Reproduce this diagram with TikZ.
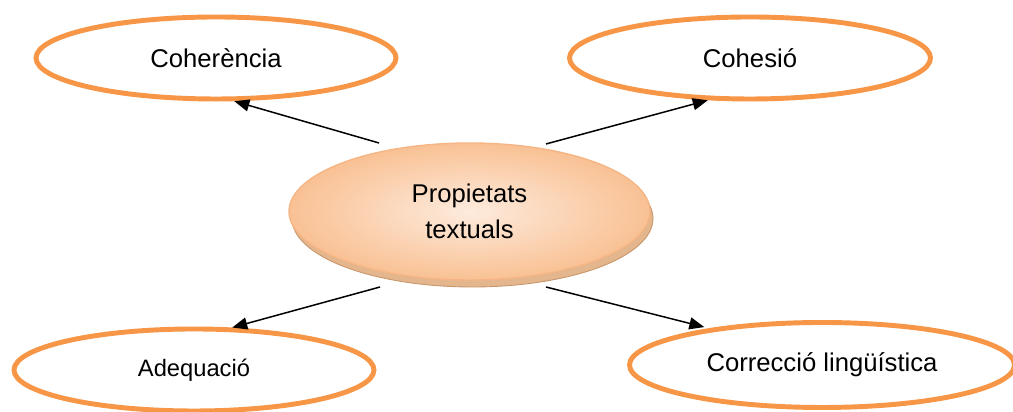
\documentclass[tikz,border=0pt]{standalone}
\usepackage{fontspec}
\setmainfont{Liberation Sans}
\usetikzlibrary{shapes.geometric,arrows.meta}

\definecolor{ringorange}{HTML}{F79646}
\definecolor{peachlight}{HTML}{FDEBDD}
\definecolor{peachdark}{HTML}{F9C194}
\definecolor{peachline}{HTML}{F5B584}
\definecolor{bevel}{HTML}{E3B68E}
\definecolor{beveldark}{HTML}{C9966A}

\tikzset{
	prop/.style={ellipse, draw=ringorange, line width=2.8pt, fill=white, inner sep=0pt,
		minimum width=7.2cm, minimum height=1.64cm, font=\fontsize{14.6}{17}\selectfont},
	arr/.style={-{Triangle[length=0.3cm,width=0.24cm]}, line width=0.85pt, black}
}

\begin{document}
\begin{tikzpicture}

		\useasboundingbox (0,0) rectangle (20.26,8.24);

		\coordinate (S1) at (7.58,5.38);
		\coordinate (S2) at (10.92,5.36);
		\coordinate (S3) at (7.60,2.50);
		\coordinate (S4) at (10.92,2.50);

		% the four properties
		\node[prop] (coh) at (4.32,7.08) {Coherència};
		\node[prop, minimum width=7.22cm] (cohe) at (15.0,7.08) {Cohesió};
		\node[prop, font=\fontsize{13.5}{16}\selectfont] (adeq) at (3.88,0.84) {Adequació};
		\node[prop, minimum width=7.7cm, minimum height=1.7cm] (corr) at (16.44,0.94) {Correcció lingüística};

		% raised disc in the middle
		\draw[fill=bevel, draw=beveldark, line width=0.5pt] (9.45,3.87) ellipse (3.61cm and 1.37cm);
		\node[ellipse, draw=peachline, line width=0.8pt, inner color=peachlight, outer color=peachdark,
			minimum width=7.22cm, minimum height=2.74cm, align=center,
			font=\fontsize{14.6}{20.5}\selectfont] (centre) at (9.39,4.01) {Propietats\\textuals};

		\draw[arr] (S1) -- (coh.293);
		\draw[arr] (S2) -- (cohe.225);
		\draw[arr] (S3) -- (adeq.48);
		\draw[arr, shorten >=0.1cm] (S4) -- (corr.162);

\end{tikzpicture}
\end{document}
